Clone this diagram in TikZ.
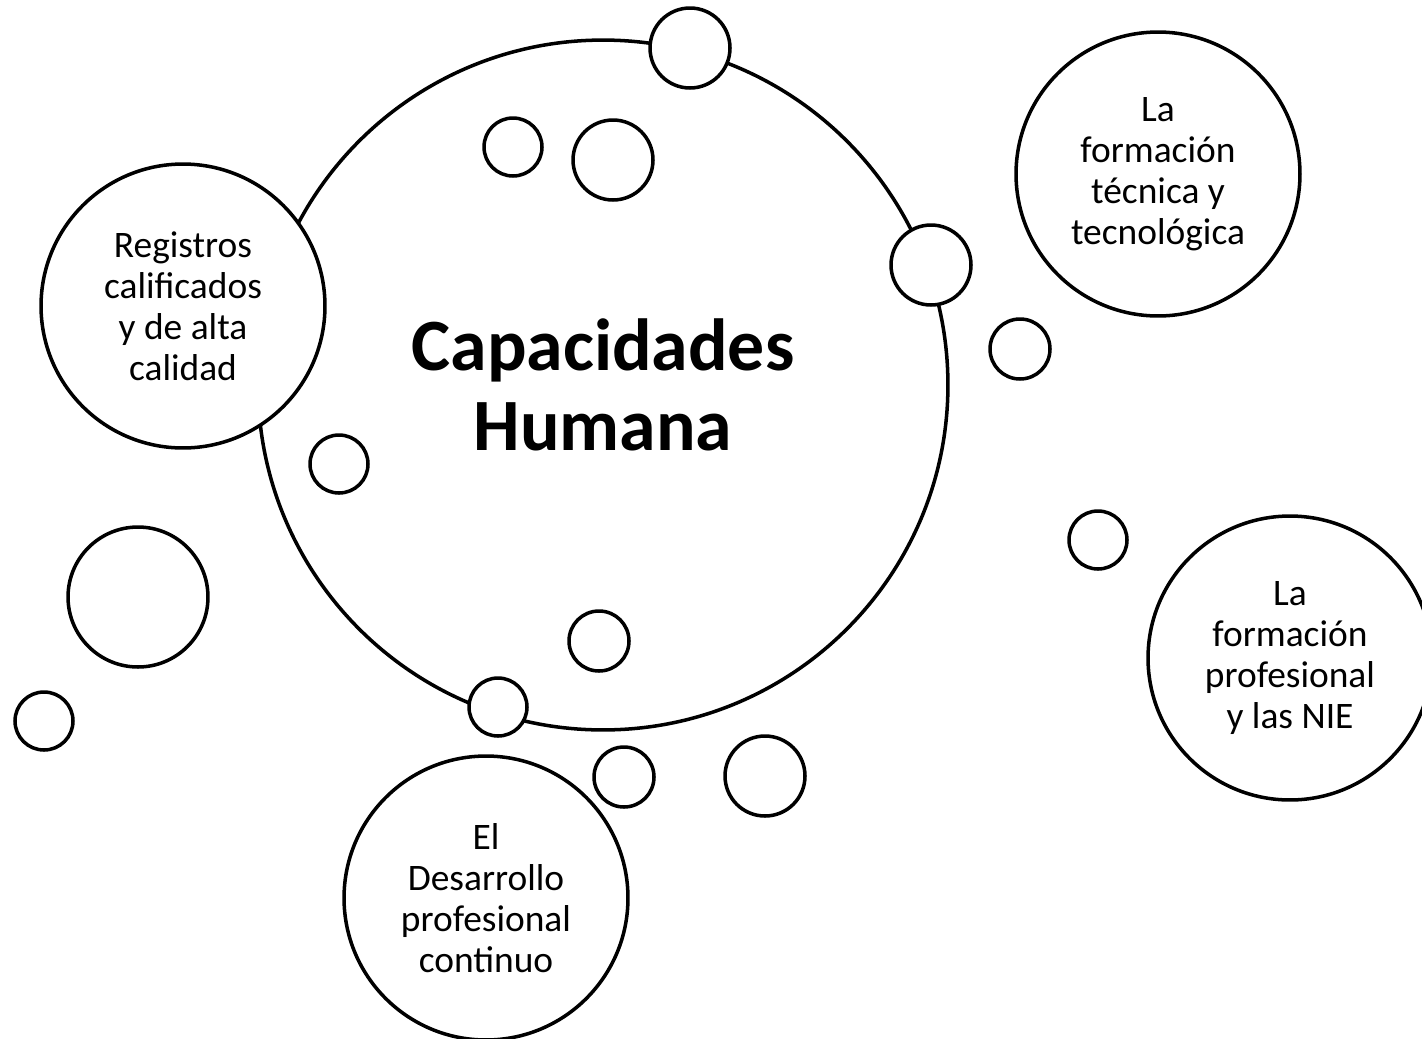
\documentclass[tikz,border=0pt]{standalone}
\usepackage{fontspec}
\setmainfont{Carlito}

\tikzset{
  bubble/.style={circle, draw=black, line width=2pt, fill=white, inner sep=0pt, minimum size=#1},
  topic/.style={bubble=5.68cm, align=center, font=\fontsize{21.3}{23.4}\selectfont},
  core/.style={bubble=13.8cm, align=center, font=\bfseries\fontsize{42}{45.5}\selectfont}
}

\begin{document}
\begin{tikzpicture}[x=0.02cm, y=-0.02cm]
\useasboundingbox (0,0) rectangle (1422,1038);

\node[core] (capacidades) at (603,385) {Capacidades\\Humana};

\node[bubble=1.6cm] (b1) at (690,48) {};
\node[bubble=1.16cm] (b2) at (513,147) {};
\node[bubble=1.6cm] (b3) at (613,160) {};
\node[bubble=1.6cm] (b4) at (931,265) {};
\node[bubble=1.2cm] (b5) at (1020,349) {};
\node[bubble=1.16cm] (b6) at (339,464) {};
\node[bubble=1.16cm] (b7) at (1098,540) {};
\node[bubble=2.8cm] (b8) at (138,597) {};
\node[bubble=1.2cm] (b9) at (599,641) {};
\node[bubble=1.16cm] (b10) at (44,721) {};
\node[bubble=1.16cm] (b11) at (498,707) {};
\node[bubble=1.2cm] (b12) at (624,777) {};
\node[bubble=1.6cm] (b13) at (765,776) {};

\node[topic] (registros) at (183,306) {Registros\\calificados\\y de alta\\calidad};
\node[topic] (tecnica) at (1158,174) {La\\formación\\técnica y\\tecnológica};
\node[topic] (profesional) at (1290,658) {La\\formación\\profesional\\y las NIE};
\node[topic] (desarrollo) at (486,898) {El\\Desarrollo\\profesional\\continuo};
\end{tikzpicture}
\end{document}
